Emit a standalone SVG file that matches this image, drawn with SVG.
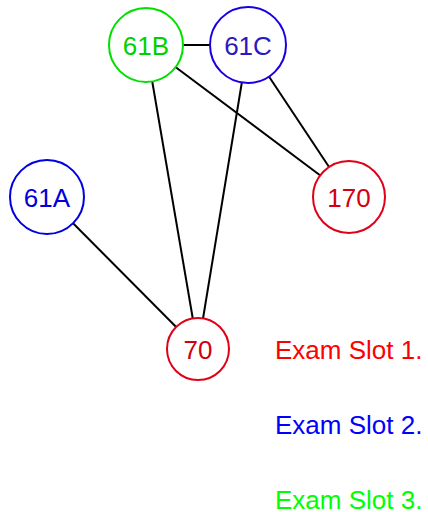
<svg xmlns="http://www.w3.org/2000/svg" width="428" height="512" viewBox="0 0 428 512">
<style>
.edge{stroke:#000;stroke-width:2;fill:none}
.node{fill:#fff;stroke-width:2}
.lbl{font-family:"Liberation Sans",Arial,sans-serif;font-size:26px;text-anchor:middle}
.leg{font-family:"Liberation Sans",Arial,sans-serif;font-size:26px}
</style>
<rect width="428" height="512" fill="#fff"/>
<g id="connectors">
<line class="edge" x1="146" y1="45" x2="248" y2="45"/>
<line class="edge" x1="146" y1="45" x2="198" y2="349"/>
<line class="edge" x1="146" y1="45" x2="349" y2="197"/>
<line class="edge" x1="248" y1="45" x2="198" y2="349"/>
<line class="edge" x1="248" y1="45" x2="349" y2="197"/>
<line class="edge" x1="47" y1="197" x2="198" y2="349"/>
</g>
<g id="n61B"><circle class="node" cx="146" cy="45" r="37" stroke="#00e000"/><text class="lbl" x="146" y="55" fill="#00d000">61B</text></g>
<g id="n61C"><circle class="node" cx="248" cy="45" r="38" stroke="#1a00e0"/><text class="lbl" x="248" y="55" fill="#2a18c0">61C</text></g>
<g id="n61A"><circle class="node" cx="47" cy="197" r="37" stroke="#0000e0"/><text class="lbl" x="47" y="207" fill="#0000d8">61A</text></g>
<g id="n170"><circle class="node" cx="349" cy="197" r="36" stroke="#e00018"/><text class="lbl" x="349" y="207" fill="#d00010">170</text></g>
<g id="n70"><circle class="node" cx="198" cy="349" r="31" stroke="#e00018"/><text class="lbl" x="198" y="359" fill="#d00010">70</text></g>
<g id="legend">
<text class="leg" x="275" y="359" fill="#ff0000">Exam Slot 1.</text>
<text class="leg" x="275" y="434" fill="#0000ff">Exam Slot 2.</text>
<text class="leg" x="275" y="509" fill="#00ff00">Exam Slot 3.</text>
</g>
</svg>
